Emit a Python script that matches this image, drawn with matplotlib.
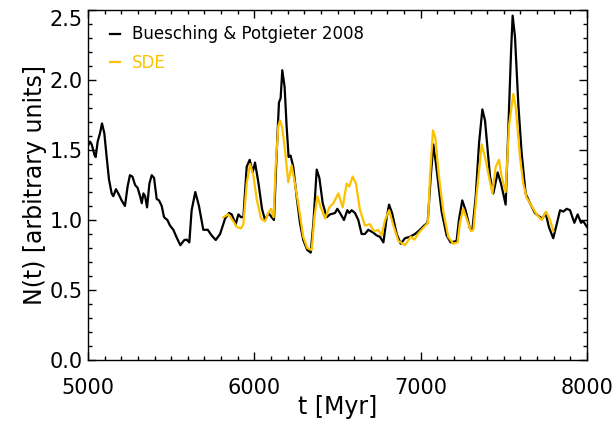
import matplotlib
matplotlib.use("Agg")
import matplotlib.pyplot as plt
from matplotlib.ticker import MultipleLocator, FixedLocator, FormatStrFormatter

plt.rcParams['font.family'] = ['DejaVu Sans']

# Buesching & Potgieter 2008 (black)
t_bp = [5000, 5012, 5022, 5040, 5046, 5058, 5072, 5084, 5098, 5112, 5126, 5142, 5152, 5168, 5182,
        5202, 5222, 5238, 5252, 5267, 5283, 5298, 5313, 5323, 5333, 5343, 5355, 5369, 5383, 5397,
        5413, 5427, 5443, 5457, 5477, 5493, 5513, 5533, 5555, 5579, 5593, 5609, 5623, 5645, 5667,
        5693, 5720, 5743, 5768, 5794, 5824, 5848, 5864, 5888, 5904, 5920, 5934, 5954, 5972, 5990,
        6004, 6024, 6046, 6064, 6086, 6104, 6118, 6134, 6148, 6158, 6168, 6182, 6194, 6206, 6218,
        6234, 6254, 6274, 6294, 6318, 6339, 6355, 6375, 6391, 6411, 6435, 6455, 6485, 6499, 6515,
        6539, 6559, 6571, 6585, 6605, 6625, 6645, 6665, 6685, 6715, 6735, 6755, 6776, 6796, 6810,
        6828, 6856, 6880, 6906, 6936, 6966, 6996, 7020, 7042, 7060, 7076, 7092, 7106, 7126, 7156,
        7180, 7216, 7230, 7250, 7270, 7296, 7311, 7331, 7351, 7371, 7387, 7403, 7417, 7437, 7463,
        7483, 7511, 7531, 7543, 7553, 7567, 7587, 7607, 7631, 7657, 7687, 7707, 7731, 7751, 7771,
        7797, 7818, 7838, 7858, 7878, 7898, 7924, 7944, 7964, 7978, 8000]
n_bp = [1.53, 1.56, 1.54, 1.46, 1.45, 1.56, 1.62, 1.69, 1.62, 1.45, 1.29, 1.19, 1.17, 1.22, 1.19,
        1.14, 1.10, 1.24, 1.32, 1.31, 1.25, 1.23, 1.17, 1.12, 1.19, 1.17, 1.09, 1.26, 1.32, 1.30,
        1.15, 1.14, 1.10, 1.02, 1.00, 0.96, 0.93, 0.875, 0.82, 0.857, 0.86, 0.84, 1.07, 1.20, 1.10,
        0.93, 0.93, 0.89, 0.857, 0.90, 1.01, 1.05, 1.04, 0.97, 1.04, 1.02, 1.02, 1.38, 1.43, 1.34,
        1.41, 1.27, 1.08, 1.00, 1.05, 1.02, 1.00, 1.47, 1.84, 1.87, 2.07, 1.95, 1.67, 1.45, 1.46,
        1.38, 1.17, 0.98, 0.857, 0.786, 0.767, 0.98, 1.36, 1.30, 1.12, 1.02, 1.04, 1.05, 1.08, 1.05,
        1.00, 1.07, 1.05, 1.07, 1.05, 1.00, 0.90, 0.90, 0.93, 0.91, 0.89, 0.88, 0.84, 1.02, 1.11,
        1.05, 0.90, 0.83, 0.87, 0.88, 0.90, 0.93, 0.96, 0.98, 1.30, 1.54, 1.40, 1.26, 1.06, 0.89,
        0.84, 0.85, 1.00, 1.14, 1.07, 0.94, 0.93, 1.17, 1.55, 1.79, 1.71, 1.50, 1.31, 1.19, 1.34,
        1.26, 1.11, 1.79, 2.19, 2.46, 2.31, 1.83, 1.48, 1.19, 1.12, 1.05, 1.03, 1.01, 1.05, 0.95,
        0.87, 0.97, 1.07, 1.06, 1.08, 1.07, 0.98, 1.04, 0.98, 0.99, 0.95]

# SDE (yellow)
t_sde = [5814, 5844, 5874, 5894, 5920, 5934, 5954, 5974, 5994, 6014, 6040, 6064, 6084, 6100, 6116,
         6128, 6144, 6154, 6168, 6184, 6204, 6224, 6244, 6270, 6294, 6318, 6345, 6361, 6379, 6399,
         6425, 6451, 6475, 6505, 6531, 6555, 6571, 6591, 6611, 6635, 6665, 6695, 6719, 6745, 6765,
         6786, 6810, 6836, 6866, 6906, 6940, 6962, 6990, 7020, 7044, 7056, 7074, 7088, 7108, 7136,
         7166, 7196, 7222, 7236, 7256, 7276, 7303, 7317, 7337, 7367, 7387, 7407, 7431, 7451, 7471,
         7487, 7511, 7531, 7557, 7571, 7597, 7617, 7637, 7667, 7697, 7727, 7754, 7778, 7798]
n_sde = [1.02, 1.04, 0.99, 0.95, 0.94, 0.97, 1.26, 1.40, 1.32, 1.15, 1.01, 0.99, 1.05, 1.08, 1.02,
         1.38, 1.67, 1.71, 1.66, 1.50, 1.27, 1.39, 1.26, 1.07, 0.88, 0.80, 0.786, 1.02, 1.17, 1.09,
         1.01, 1.09, 1.12, 1.19, 1.09, 1.26, 1.24, 1.31, 1.26, 1.07, 0.96, 0.97, 0.92, 0.93, 0.89,
         1.00, 1.07, 0.96, 0.85, 0.82, 0.88, 0.86, 0.91, 0.95, 0.98, 1.31, 1.64, 1.59, 1.33, 1.06,
         0.88, 0.83, 0.84, 0.98, 1.08, 1.01, 0.92, 0.93, 1.19, 1.54, 1.45, 1.33, 1.19, 1.38, 1.43,
         1.31, 1.20, 1.67, 1.90, 1.81, 1.45, 1.26, 1.16, 1.10, 1.04, 1.00, 1.06, 1.00, 0.92]

y_ticks = [0.0, 0.5, 1.0, 1.5, 2.0, 2.5]
x_ticks = [5000, 6000, 7000, 8000]

fig = plt.figure(figsize=(6.16, 4.28), dpi=100)
ax = fig.add_axes([0.1429, 0.1589, 0.81, 0.8177])

ax.plot(t_bp, n_bp, color='black', lw=1.6, label='Buesching & Potgieter 2008')
ax.plot(t_sde, n_sde, color='#fcc200', lw=1.6, label='SDE')

ax.set_xlim(5000, 8000)
ax.set_ylim(0, 2.5)
ax.xaxis.set_major_locator(FixedLocator(x_ticks))
ax.xaxis.set_minor_locator(MultipleLocator(100))
ax.yaxis.set_major_locator(FixedLocator(y_ticks))
ax.yaxis.set_minor_locator(MultipleLocator(0.1))
ax.yaxis.set_major_formatter(FormatStrFormatter('%.1f'))
ax.tick_params(which='both', direction='in', top=True, right=True, labelsize=15, width=1.0)
ax.tick_params(which='major', length=6)
ax.tick_params(which='minor', length=3)
ax.tick_params(axis='x', which='major', pad=13)
ax.tick_params(axis='y', which='major', pad=4)
for s in ax.spines.values():
    s.set_linewidth(1.0)

ax.set_xlabel('t [Myr]', fontsize=17, labelpad=-2)
ax.set_ylabel('N(t) [arbitrary units]', fontsize=17, labelpad=2)

fig.canvas.draw()
ax.yaxis.get_major_ticks()[-1].label1.set_va('top')

leg = ax.legend(loc='upper left', bbox_to_anchor=(0.03, 0.975), frameon=False, fontsize=12,
                handlelength=0.6, handletextpad=0.75, labelspacing=0.65, borderaxespad=0.0,
                labelcolor='linecolor')

fig.savefig('out.png', dpi=100)
